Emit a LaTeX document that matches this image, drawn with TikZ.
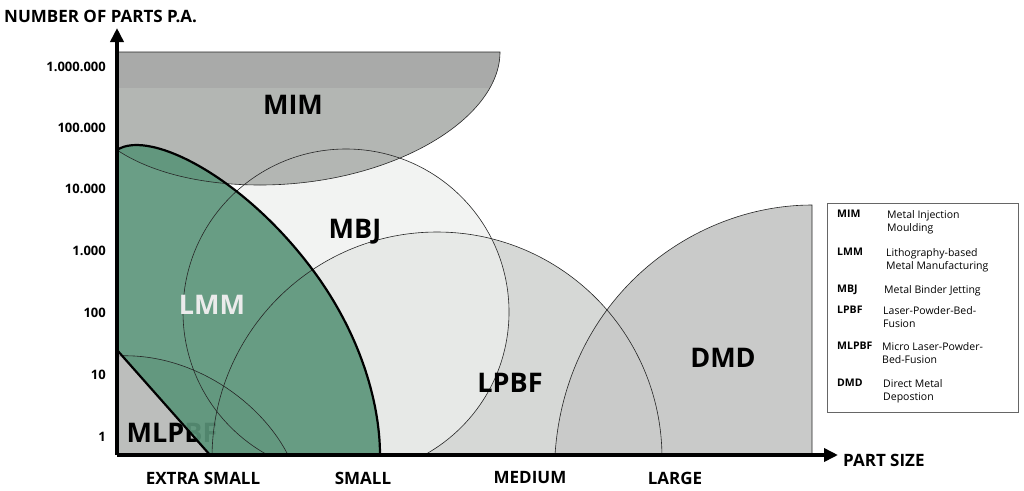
\documentclass[tikz,border=0pt]{standalone}
\usepackage{fontspec}
\setmainfont{Open Sans}
\usetikzlibrary{arrows.meta}
\definecolor{mimdark}{HTML}{A9AAA9}
\definecolor{mimlight}{HTML}{B3B6B3}
\definecolor{mbjfill}{HTML}{EEEFEE}
\definecolor{lpbffill}{HTML}{D6D8D6}
\definecolor{dmdfill}{HTML}{C9CAC9}
\definecolor{mlfill}{HTML}{BCBEBC}
\definecolor{lmmgreen}{HTML}{5A9479}
\tikzset{
  lbl/.style={font=\bfseries\fontsize{27}{27}\selectfont, inner sep=0pt},
  tick/.style={font=\bfseries\fontsize{13}{13}\selectfont, anchor=east, inner sep=0pt},
  xlab/.style={font=\bfseries\fontsize{17}{17}\selectfont, inner sep=0pt},
  axis/.style={line width=4pt, -{Triangle[length=14pt,width=13pt]}},
  thin/.style={draw=black!85, line width=0.6pt},
  lg/.style={font=\fontsize{10.5}{13}\selectfont, anchor=north west, inner sep=0pt, align=left},
  lgb/.style={font=\bfseries\fontsize{10.5}{13}\selectfont, anchor=north west, inner sep=0pt}
}
\begin{document}
\begin{tikzpicture}[x=1pt,y=-1pt]
\useasboundingbox (0,0) rectangle (1024,490);
\fill[white] (0,0) rectangle (1024,490);
\begin{scope}
\clip (0,0) rectangle (1024,455);
\fill[lpbffill] (437,458) ellipse [x radius=225, y radius=226];
\fill[mbjfill,opacity=0.75] (346,312) circle (163);
\end{scope}
\fill[dmdfill] (555,455) .. controls (565,300) and (690,205) .. (812,205) -- (812,455) -- cycle;
\begin{scope}
\clip (117,52) -- (500,52) .. controls (500,120) and (390,185) .. (260,185) .. controls (200,185) and (150,172) .. (117,150) -- cycle;
\fill[mimlight] (0,0) rectangle (1024,490);
\fill[mimdark] (117,52) rectangle (1024,88);
\end{scope}
\fill[mlfill] (117,356) .. controls (190,352) and (260,400) .. (288,455) -- (117,455) -- cycle;
\node[lbl] (mlpbf) at (172,433) {MLPBF};
\fill[lmmgreen,opacity=0.9] (117,150) .. controls (150,128) and (250,180) .. (320,280) .. controls (365,345) and (380,410) .. (380,455) -- (210,455) -- (117,350) -- cycle;
\begin{scope}
\clip (117,0) rectangle (1024,455);
\draw[thin] (346,312) circle (163);
\draw[thin] (437,458) ellipse [x radius=225, y radius=226];
\draw[thin] (117,356) .. controls (190,352) and (260,400) .. (288,455);
\end{scope}
\draw[thin] (555,455) .. controls (565,300) and (690,205) .. (812,205) -- (812,455);
\draw[thin] (117,52) -- (500,52) .. controls (500,120) and (390,185) .. (260,185) .. controls (200,185) and (150,172) .. (117,150);
\draw[line width=2.2pt] (117,150) .. controls (150,128) and (250,180) .. (320,280) .. controls (365,345) and (380,410) .. (380,455);
\draw[line width=2.2pt] (210,455) -- (117,350);
\node[lbl] (mim) at (293,105) {MIM};
\node[lbl] (mbj) at (355,232) {MBJ};
\node[lbl,text=black!8] (lmm) at (212,305) {LMM};
\node[lbl] (lpbf) at (510,383) {LPBF};
\node[lbl] (dmd) at (723,358) {DMD};
\coordinate (o) at (117,455);
\coordinate (ytop) at (117,28);
\coordinate (xend) at (838,455);
\draw[axis] (o) -- (ytop);
\draw[axis] (o) -- (xend);
\node[xlab,anchor=west] (ytitle) at (4,16) {NUMBER OF PARTS P.A.};
\node[xlab,anchor=west] (xtitle) at (843,460) {PART SIZE};
\node[xlab] (xs) at (203,478) {EXTRA SMALL};
\node[xlab] (s) at (363,478) {SMALL};
\node[xlab] (m) at (530,478) {MEDIUM};
\node[xlab] (l) at (675,478) {LARGE};
\node[tick] (t1) at (106,67) {1.000.000};
\node[tick] (t2) at (106,128) {100.000};
\node[tick] (t3) at (106,189) {10.000};
\node[tick] (t4) at (106,251) {1.000};
\node[tick] (t5) at (106,313) {100};
\node[tick] (t6) at (106,375) {10};
\node[tick] (t7) at (106,437) {1};
\draw[black!60,line width=0.6pt] (827,203) rectangle (1018,412);
\node[lgb] (a1) at (837,210) {MIM};   \node[lg] (d1) at (887,210) {Metal Injection\\Moulding};
\node[lgb] (a2) at (837,248) {LMM};   \node[lg] (d2) at (886,248) {Lithography-based\\Metal Manufacturing};
\node[lgb] (a3) at (837,285) {MBJ};   \node[lg] (d3) at (884,285) {Metal Binder Jetting};
\node[lgb] (a4) at (837,306) {LPBF};  \node[lg] (d4) at (883,306) {Laser-Powder-Bed-\\Fusion};
\node[lgb] (a5) at (837,342) {MLPBF}; \node[lg] (d5) at (882,342) {Micro Laser-Powder-\\Bed-Fusion};
\node[lgb] (a6) at (837,379) {DMD};   \node[lg] (d6) at (883,379) {Direct Metal\\Depostion};
\end{tikzpicture}
\end{document}
